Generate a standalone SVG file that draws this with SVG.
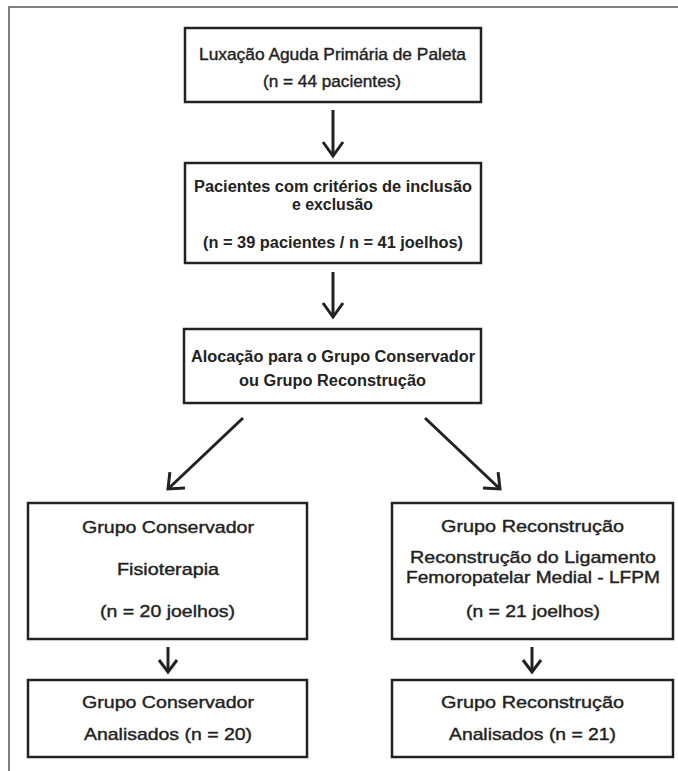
<svg xmlns="http://www.w3.org/2000/svg" width="678" height="771" viewBox="0 0 678 771">
<style>
.box{fill:#fff;stroke:#222;stroke-width:2.5}
.t{font-family:"Liberation Sans",Arial,sans-serif;font-size:17px;fill:#222;stroke:#222;stroke-width:0.4;text-anchor:middle}
.b{font-family:"Liberation Sans",Arial,sans-serif;font-size:16px;font-weight:bold;fill:#222;text-anchor:middle}
.c{fill:none;stroke:#222;stroke-width:3}
</style>
<defs>
<marker id="ah" markerUnits="userSpaceOnUse" orient="auto" refX="0" refY="0" markerWidth="40" markerHeight="40" viewBox="-20 -20 40 40" overflow="visible">
<path d="M-14,-10 L0,0 L-14,10" fill="none" stroke="#222" stroke-width="3"/>
</marker>
<marker id="ahs" markerUnits="userSpaceOnUse" orient="auto" refX="0" refY="0" markerWidth="40" markerHeight="40" viewBox="-20 -20 40 40" overflow="visible">
<path d="M-12,-9 L0,0 L-12,9" fill="none" stroke="#222" stroke-width="3"/>
</marker>
<marker id="ahd" markerUnits="userSpaceOnUse" orient="auto" refX="0" refY="0" markerWidth="40" markerHeight="40" viewBox="-20 -20 40 40" overflow="visible">
<path d="M-13,-11 L0,0 L-13,11" fill="none" stroke="#222" stroke-width="3"/>
</marker>
</defs>
<rect width="678" height="771" fill="#fff"/>
<path d="M9,771 V7 H678" fill="none" stroke="#555" stroke-width="1.5"/>
<g id="connectors">
<line class="c" x1="333" y1="110" x2="333" y2="156" marker-end="url(#ah)"/>
<line class="c" x1="333" y1="272" x2="333" y2="317" marker-end="url(#ah)"/>
<line class="c" x1="243" y1="418" x2="168" y2="489" marker-end="url(#ahd)"/>
<line class="c" x1="425" y1="418" x2="500" y2="489" marker-end="url(#ahd)"/>
<line class="c" x1="168" y1="647" x2="168" y2="672" marker-end="url(#ahs)"/>
<line class="c" x1="532" y1="647" x2="532" y2="672" marker-end="url(#ahs)"/>
</g>
<g id="n1">
<rect class="box" x="185" y="28" width="296" height="74"/>
<text class="t" x="332.5" y="60" textLength="267" lengthAdjust="spacingAndGlyphs">Luxação Aguda Primária de Paleta</text>
<text class="t" x="332" y="87" textLength="138" lengthAdjust="spacingAndGlyphs">(n = 44 pacientes)</text>
</g>
<g id="n2">
<rect class="box" x="185" y="163" width="296" height="100"/>
<text class="b" x="333" y="192" textLength="278" lengthAdjust="spacingAndGlyphs">Pacientes com critérios de inclusão</text>
<text class="b" x="332.5" y="210" textLength="81" lengthAdjust="spacingAndGlyphs">e exclusão</text>
<text class="b" x="333" y="248" textLength="260" lengthAdjust="spacingAndGlyphs">(n = 39 pacientes / n = 41 joelhos)</text>
</g>
<g id="n3">
<rect class="box" x="184" y="329" width="297" height="74"/>
<text class="b" x="333" y="362" textLength="284" lengthAdjust="spacingAndGlyphs">Alocação para o Grupo Conservador</text>
<text class="b" x="332.5" y="386" textLength="187" lengthAdjust="spacingAndGlyphs">ou Grupo Reconstrução</text>
</g>
<g id="n4">
<rect class="box" x="28" y="503" width="279" height="136"/>
<text class="t" x="168" y="533" textLength="172" lengthAdjust="spacingAndGlyphs">Grupo Conservador</text>
<text class="t" x="168" y="575" textLength="102" lengthAdjust="spacingAndGlyphs">Fisioterapia</text>
<text class="t" x="167.5" y="617" textLength="135" lengthAdjust="spacingAndGlyphs">(n = 20 joelhos)</text>
</g>
<g id="n5">
<rect class="box" x="392" y="503" width="281" height="136"/>
<text class="t" x="532.5" y="532" textLength="183" lengthAdjust="spacingAndGlyphs">Grupo Reconstrução</text>
<text class="t" x="533" y="563" textLength="246" lengthAdjust="spacingAndGlyphs">Reconstrução do Ligamento</text>
<text class="t" x="533" y="583" textLength="254" lengthAdjust="spacingAndGlyphs">Femoropatelar Medial - LFPM</text>
<text class="t" x="533" y="617" textLength="134" lengthAdjust="spacingAndGlyphs">(n = 21 joelhos)</text>
</g>
<g id="n6">
<rect class="box" x="28" y="680" width="279" height="77"/>
<text class="t" x="168" y="708" textLength="172" lengthAdjust="spacingAndGlyphs">Grupo Conservador</text>
<text class="t" x="168" y="740" textLength="168" lengthAdjust="spacingAndGlyphs">Analisados (n = 20)</text>
</g>
<g id="n7">
<rect class="box" x="392" y="680" width="281" height="77"/>
<text class="t" x="532.5" y="708" textLength="183" lengthAdjust="spacingAndGlyphs">Grupo Reconstrução</text>
<text class="t" x="532.5" y="740" textLength="167" lengthAdjust="spacingAndGlyphs">Analisados (n = 21)</text>
</g>
</svg>
